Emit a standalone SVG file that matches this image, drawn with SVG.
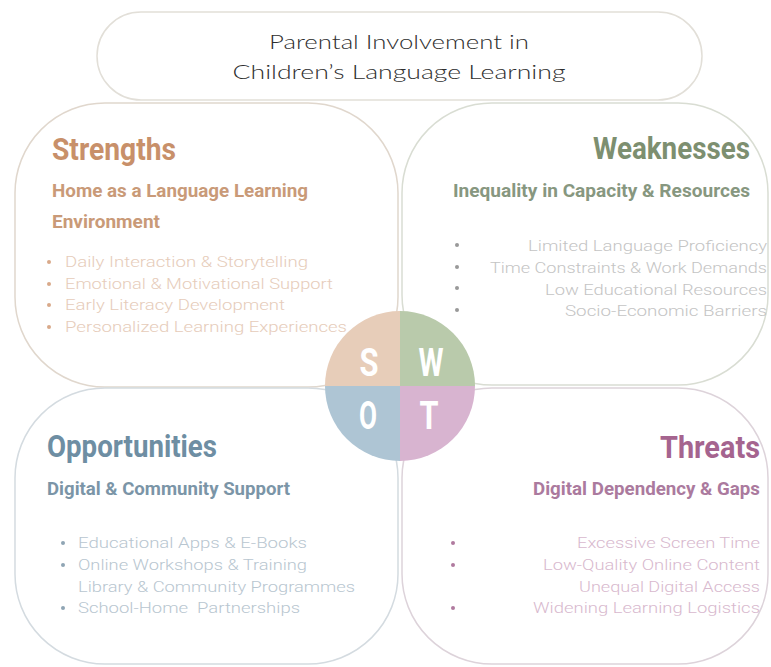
<svg xmlns="http://www.w3.org/2000/svg" width="771" height="667" viewBox="0 0 771 667">
<style>
.box{fill:#fff;stroke-width:1.5}
.ttl{font-family:Lato,"Open Sans",sans-serif;font-weight:300;font-size:20px;fill:#2e2e2e;text-anchor:middle}
.hd{font-family:Roboto,"Liberation Sans",sans-serif;font-weight:700;font-size:31px}
.sub{font-family:Roboto,"Liberation Sans",sans-serif;font-weight:700;font-size:18px}
.li{font-family:Roboto,"Liberation Sans",sans-serif;font-weight:300;font-size:15.5px}
.end{text-anchor:end}
.let{font-family:Roboto,"Liberation Sans",sans-serif;font-weight:700;font-size:39px;fill:#fff;text-anchor:middle}
</style>
<rect width="771" height="667" fill="#fff"/>
<g id="title">
<rect x="97" y="12" width="605" height="88" rx="44" fill="#fff" stroke="#e2dfd8" stroke-width="1.5"/>
<text class="ttl" x="399" y="49" textLength="260" lengthAdjust="spacingAndGlyphs">Parental Involvement in</text>
<text class="ttl" x="399" y="79" textLength="333" lengthAdjust="spacingAndGlyphs">Children’s Language Learning</text>
</g>
<g id="strengths">
<rect class="box" x="15" y="103" width="383" height="284" rx="90" stroke="#e0d7cd"/>
<text class="hd" x="52" y="160" fill="#c8906a" textLength="124" lengthAdjust="spacingAndGlyphs">Strengths</text>
<text class="sub" x="52" y="197" fill="#c99a78" textLength="256" lengthAdjust="spacingAndGlyphs">Home as a Language Learning</text>
<text class="sub" x="52" y="228" fill="#c99a78" textLength="108" lengthAdjust="spacingAndGlyphs">Environment</text>
<g fill="#d9a98a"><circle cx="49" cy="262" r="2"/><circle cx="49" cy="284" r="2"/><circle cx="49" cy="305" r="2"/><circle cx="49" cy="327" r="2"/></g>
<g class="li" fill="#e6ccba">
<text x="65" y="267" textLength="243" lengthAdjust="spacingAndGlyphs">Daily Interaction &amp; Storytelling</text>
<text x="65" y="289" textLength="268" lengthAdjust="spacingAndGlyphs">Emotional &amp; Motivational Support</text>
<text x="65" y="310" textLength="220" lengthAdjust="spacingAndGlyphs">Early Literacy Development</text>
<text x="65" y="332" textLength="282" lengthAdjust="spacingAndGlyphs">Personalized Learning Experiences</text>
</g>
</g>
<g id="weaknesses">
<rect class="box" x="402" y="103" width="366" height="282" rx="90" stroke="#d9ddd3"/>
<text class="hd end" x="750" y="159" fill="#7d8f70" textLength="157" lengthAdjust="spacingAndGlyphs">Weaknesses</text>
<text class="sub end" x="750" y="197" fill="#879780" textLength="297" lengthAdjust="spacingAndGlyphs">Inequality in Capacity &amp; Resources</text>
<g fill="#999"><circle cx="457" cy="245" r="2"/><circle cx="457" cy="267" r="2"/><circle cx="457" cy="288" r="2"/><circle cx="457" cy="310" r="2"/></g>
<g class="li end" fill="#c4c4c4">
<text x="767" y="251" textLength="239" lengthAdjust="spacingAndGlyphs">Limited Language Proficiency</text>
<text x="767" y="273" textLength="277" lengthAdjust="spacingAndGlyphs">Time Constraints &amp; Work Demands</text>
<text x="767" y="295" textLength="222" lengthAdjust="spacingAndGlyphs">Low Educational Resources</text>
<text x="767" y="316" textLength="202" lengthAdjust="spacingAndGlyphs">Socio-Economic Barriers</text>
</g>
</g>
<g id="opportunities">
<rect class="box" x="15" y="388" width="383" height="276" rx="90" stroke="#d4dbe0"/>
<text class="hd" x="47" y="457" fill="#6e8ea3" textLength="170" lengthAdjust="spacingAndGlyphs">Opportunities</text>
<text class="sub" x="47" y="495" fill="#7b95a7" textLength="243" lengthAdjust="spacingAndGlyphs">Digital &amp; Community Support</text>
<g fill="#8fa5b4"><circle cx="63" cy="543" r="2"/><circle cx="63" cy="565" r="2"/><circle cx="63" cy="608" r="2"/></g>
<g class="li" fill="#b8c6d0">
<text x="78" y="548" textLength="229" lengthAdjust="spacingAndGlyphs">Educational Apps &amp; E-Books</text>
<text x="78" y="570" textLength="229" lengthAdjust="spacingAndGlyphs">Online Workshops &amp; Training</text>
<text x="78" y="592" textLength="277" lengthAdjust="spacingAndGlyphs">Library &amp; Community Programmes</text>
<text x="78" y="613" textLength="222" lengthAdjust="spacingAndGlyphs" xml:space="preserve">School-Home  Partnerships</text>
</g>
</g>
<g id="threats">
<rect class="box" x="402" y="388" width="366" height="276" rx="90" stroke="#ddd3da"/>
<text class="hd end" x="760" y="458" fill="#a5648f" textLength="100" lengthAdjust="spacingAndGlyphs">Threats</text>
<text class="sub end" x="760" y="495" fill="#ab7a9e" textLength="227" lengthAdjust="spacingAndGlyphs">Digital Dependency &amp; Gaps</text>
<g fill="#b07a9f"><circle cx="453" cy="543" r="2"/><circle cx="453" cy="565" r="2"/><circle cx="453" cy="608" r="2"/></g>
<g class="li end" fill="#d8b9ce">
<text x="760" y="548" textLength="183" lengthAdjust="spacingAndGlyphs">Excessive Screen Time</text>
<text x="760" y="570" textLength="217" lengthAdjust="spacingAndGlyphs">Low-Quality Online Content</text>
<text x="760" y="592" textLength="181" lengthAdjust="spacingAndGlyphs">Unequal Digital Access</text>
<text x="760" y="613" textLength="227" lengthAdjust="spacingAndGlyphs">Widening Learning Logistics</text>
</g>
</g>
<g id="swot">
<path d="M400 386 L325 386 A75 75 0 0 1 400 311 Z" fill="#e7cdb9"/>
<path d="M400 386 L400 311 A75 75 0 0 1 475 386 Z" fill="#b9caab"/>
<path d="M400 386 L325 386 A75 75 0 0 0 400 461 Z" fill="#aec5d4"/>
<path d="M400 386 L400 461 A75 75 0 0 0 475 386 Z" fill="#d8b4d0"/>
<text class="let" x="369" y="376" textLength="19" lengthAdjust="spacingAndGlyphs">S</text>
<text class="let" x="431" y="376" textLength="25" lengthAdjust="spacingAndGlyphs">W</text>
<text class="let" x="368" y="429" textLength="18" lengthAdjust="spacingAndGlyphs">O</text>
<text class="let" x="429" y="429" textLength="19" lengthAdjust="spacingAndGlyphs">T</text>
</g>
<g id="connectors"/>
</svg>
